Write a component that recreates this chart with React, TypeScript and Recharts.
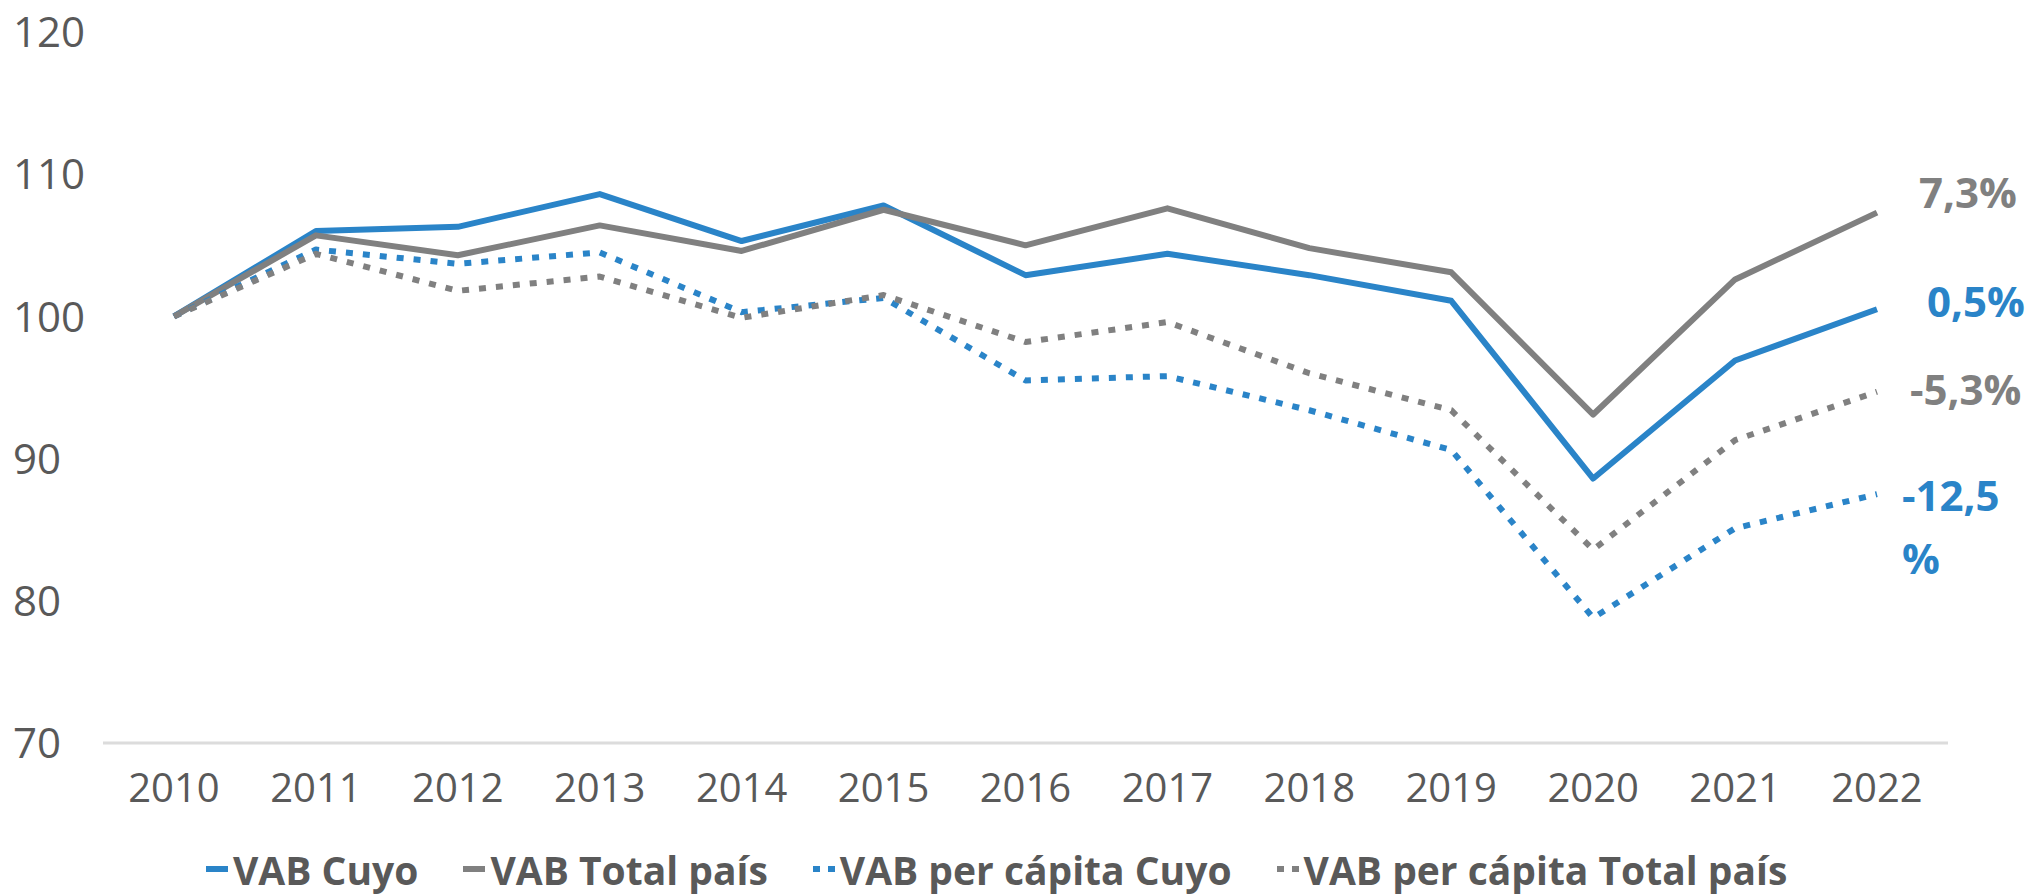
import React from 'react';
import { LineChart, Line, XAxis, YAxis, Legend } from 'recharts';

const years = ['2010', '2011', '2012', '2013', '2014', '2015', '2016', '2017', '2018', '2019', '2020', '2021', '2022'];
const vabCuyo = [100, 106.0, 106.3, 108.6, 105.3, 107.8, 102.9, 104.4, 102.9, 101.1, 88.6, 96.9, 100.5];
const vabTotal = [100, 105.7, 104.3, 106.4, 104.6, 107.5, 105.0, 107.6, 104.8, 103.1, 93.1, 102.6, 107.3];
const perCapitaCuyo = [100, 104.7, 103.7, 104.5, 100.3, 101.3, 95.5, 95.8, 93.4, 90.6, 78.8, 85.1, 87.5];
const perCapitaTotal = [100, 104.4, 101.8, 102.8, 99.9, 101.5, 98.2, 99.6, 96.0, 93.4, 83.6, 91.3, 94.7];
const yTicks = [70, 80, 90, 100, 110, 120];
const seriesNames = ['VAB Cuyo', 'VAB Total país', 'VAB per cápita Cuyo', 'VAB per cápita Total país'];
const endLabels = ['0,5%', '7,3%', '-12,5', '-5,3%'];

const BLUE = '#2A84C8';
const GRAY = '#808080';
const TEXT = '#595959';
const FONT = '"Open Sans", "Noto Sans", sans-serif';
const DOTS = '7 10';

const data = years.map((year, i) => ({
  year,
  cuyo: vabCuyo[i],
  total: vabTotal[i],
  pcCuyo: perCapitaCuyo[i],
  pcTotal: perCapitaTotal[i],
}));

const seriesStyle = [
  { key: 'cuyo', color: BLUE, dash: undefined as string | undefined },
  { key: 'total', color: GRAY, dash: undefined as string | undefined },
  { key: 'pcCuyo', color: BLUE, dash: DOTS },
  { key: 'pcTotal', color: GRAY, dash: DOTS },
];

const labelOffsets = [
  { dx: 50, dy: -9 },
  { dx: 42, dy: -21 },
  { dx: 25, dy: 0 },
  { dx: 33, dy: -3 },
];

const makeEndLabel = (idx: number) => (props: any) => {
  const { x, y, index } = props;
  if (index !== years.length - 1) return <g />;
  const { dx, dy } = labelOffsets[idx];
  const color = seriesStyle[idx].color;
  const txt = endLabels[idx];
  if (idx === 2) {
    return (
      <text x={x + dx} y={y + dy} fill={color} fontSize={42} fontWeight={700} fontFamily={FONT} dominantBaseline="central">
        <tspan x={x + dx}>{txt}</tspan>
        <tspan x={x + dx} dy={63}>%</tspan>
      </text>
    );
  }
  return (
    <text x={x + dx} y={y + dy} fill={color} fontSize={42} fontWeight={700} fontFamily={FONT} dominantBaseline="central">
      {txt}
    </text>
  );
};

const YTick = (props: any) => {
  const { y, payload } = props;
  return (
    <text x={13} y={y} dy="0.36em" textAnchor="start" fill={TEXT} fontSize={42} fontFamily={FONT}>
      {payload.value}
    </text>
  );
};

const LegendContent = () => (
  <div style={{ display: 'flex', alignItems: 'center', paddingLeft: 206, height: 48, fontFamily: FONT, fontWeight: 700, fontSize: 39, color: TEXT, whiteSpace: 'nowrap' }}>
    {seriesNames.map((name, i) => (
      <div key={name} style={{ display: 'flex', alignItems: 'center', marginRight: 45 }}>
        <svg width={22} height={12} style={{ marginRight: 5 }}>
          <line x1={0} y1={6} x2={22} y2={6} stroke={seriesStyle[i].color} strokeWidth={6} strokeDasharray={seriesStyle[i].dash ? '7 8' : undefined} />
        </svg>
        <span>{name}</span>
      </div>
    ))}
  </div>
);

export default function App() {
  return (
    <div style={{ position: 'absolute', left: 0, top: 0, width: 2040, height: 896, background: '#fff' }}>
      <LineChart width={2040} height={896} data={data} margin={{ top: 32, right: 92, left: 0, bottom: 0 }}>
        <XAxis
          dataKey="year"
          height={153}
          axisLine={{ stroke: '#DCDCDC', strokeWidth: 3 }}
          tickLine={false}
          tickSize={0}
          tickMargin={31}
          padding={{ left: 71, right: 71 }}
          tick={{ fill: TEXT, fontSize: 40, fontFamily: FONT }}
          interval={0}
        />
        <YAxis
          domain={[70, 120]}
          ticks={yTicks}
          width={103}
          axisLine={false}
          tickLine={false}
          tick={<YTick />}
          interval={0}
        />
        <Legend
          layout="horizontal"
          verticalAlign="middle"
          align="center"
          content={<LegendContent />}
          wrapperStyle={{ top: 845, left: 0, width: 2040, height: 48 }}
        />
        {seriesStyle.map((s, i) => (
          <Line
            key={s.key}
            type="linear"
            dataKey={s.key}
            name={seriesNames[i]}
            stroke={s.color}
            strokeWidth={6}
            strokeDasharray={s.dash}
            strokeLinejoin="round"
            dot={false}
            activeDot={false}
            isAnimationActive={false}
            label={makeEndLabel(i)}
          />
        ))}
      </LineChart>
    </div>
  );
}
